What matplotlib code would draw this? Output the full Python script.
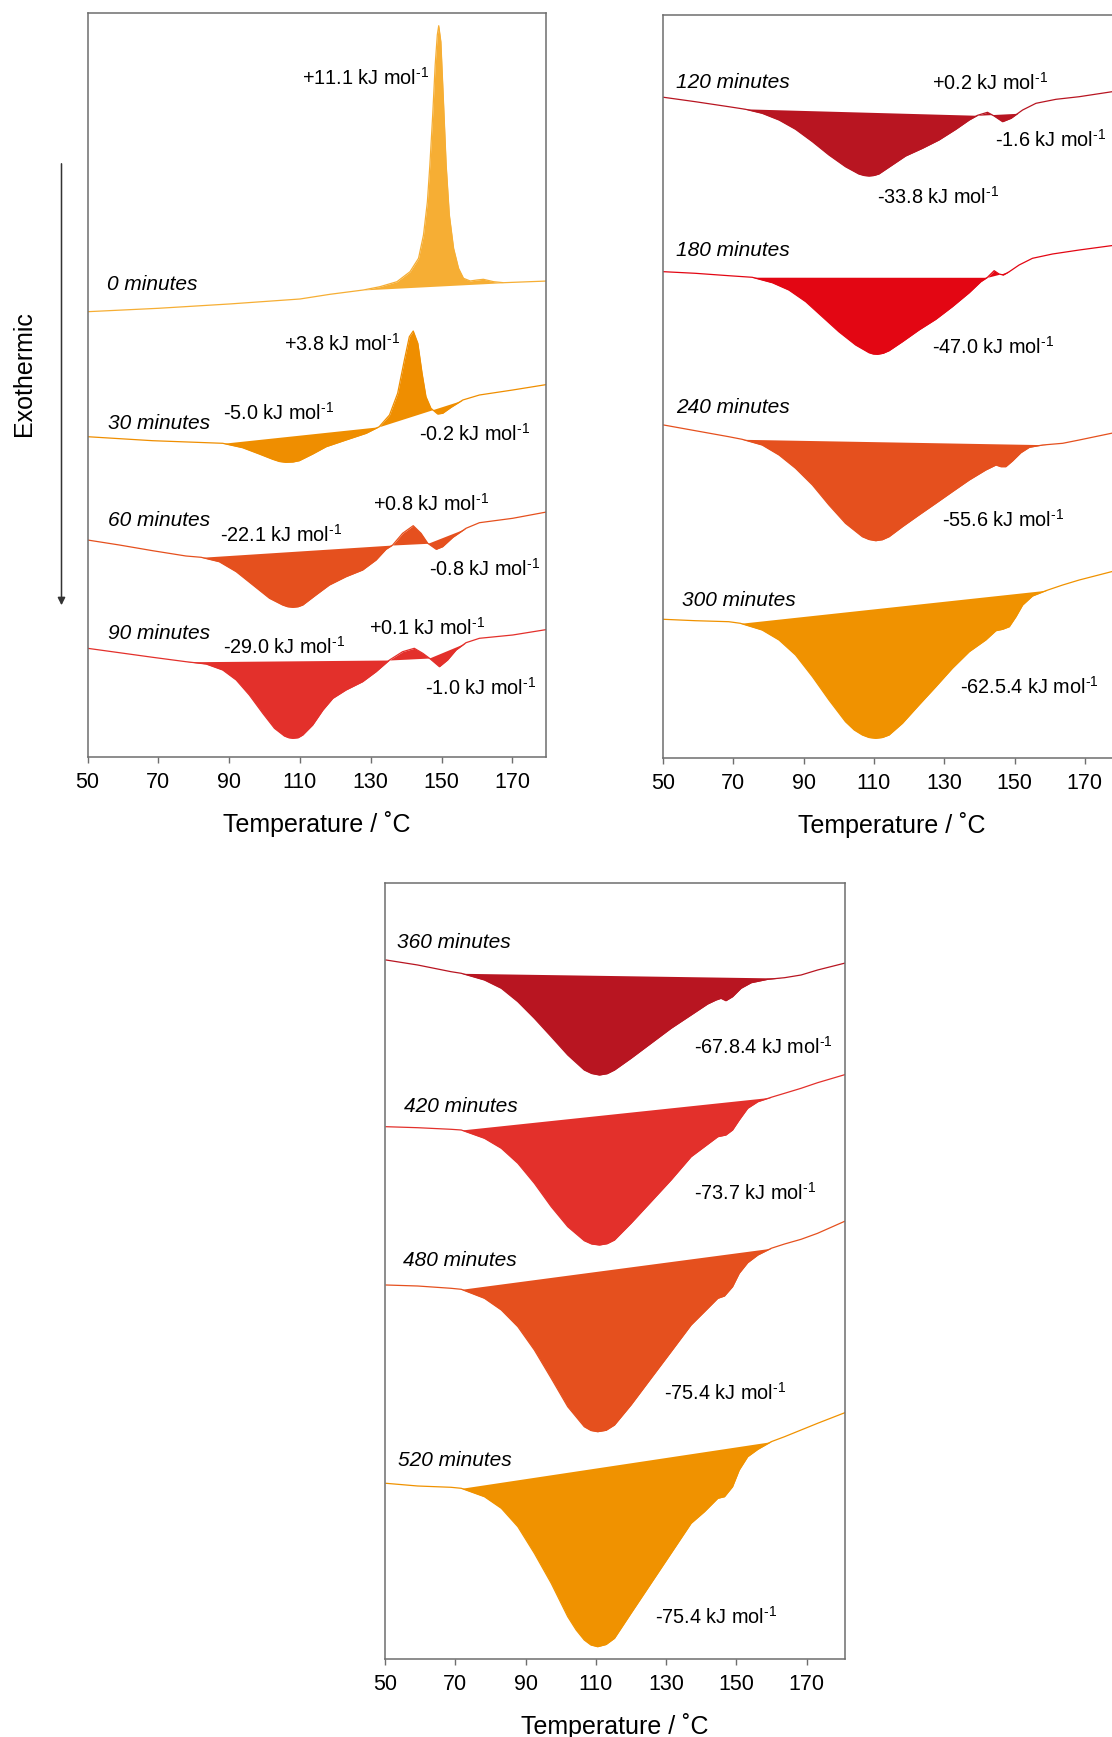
import numpy as np
import matplotlib
matplotlib.use("Agg")
import matplotlib.pyplot as plt
from matplotlib.patches import FancyArrowPatch

plt.rcParams['font.family'] = ['Liberation Sans', 'DejaVu Sans']
plt.rcParams['mathtext.fontset'] = 'custom'
plt.rcParams['mathtext.rm'] = 'Liberation Sans'
plt.rcParams['mathtext.it'] = 'Liberation Sans:italic'

# ---------------- DSC traces (temperature in degC, heat flow in a.u., stacked) ----------------
# Panel A: 0 - 90 minutes
T_0 = [50, 70, 90, 110, 118.5, 127.9, 132.6, 137.4, 141.1, 143.5, 144.9, 146, 146.7, 147.5, 148.2,
       148.8, 149.2, 149.8, 150.5, 151.3, 152.2, 153.4, 154.8, 156.2, 158.1, 160, 161.8, 164.7, 167.5,
       180]
hf_0 = [445.3, 448.7, 453, 458, 462.7, 467, 470.3, 475.3, 485.3, 498.7, 522, 555.3, 592, 642, 692,
        722, 731.3, 715.3, 658.7, 592, 542, 508.7, 488.7, 478.7, 476, 477, 477.7, 475.3, 474.3, 476]
seg_0 = [(128, 167.5)]

T_30 = [50, 68.4, 88.2, 93.8, 98.5, 102.3, 104.2, 106, 108, 109.8, 113.6, 117.4, 123, 128.7, 132.4,
        135.3, 137.6, 139.5, 140.9, 142, 143.3, 144.5, 145.6, 147, 148.9, 150.3, 152.7, 156, 160.7,
        170.1, 180.1]
hf_30 = [320.3, 316.3, 313.7, 309.3, 303, 297.7, 295.5, 294.7, 295, 296.3, 303, 310.3, 317, 323.7,
         330.3, 342, 363.7, 397, 420.3, 426, 413.7, 383.7, 360.3, 348.7, 343, 343.7, 349.7, 357, 362,
         367, 372.7]
seg_30 = [(88.2, 132.4), (132.4, 156)]

T_60 = [50, 59, 68.4, 77.8, 82.1, 87.2, 92, 96.7, 101.4, 105.1, 106.5, 108, 109.5, 110.8, 114.5, 118.3,
        123, 127.7, 131.5, 134.3, 136.2, 139, 142, 144.2, 146.1, 148.5, 150.3, 153.2, 156.9, 160.7,
        170.1, 180.1]
hf_60 = [217, 212, 206.3, 201, 199.7, 195.3, 185.3, 172, 158.7, 152, 150.3, 149.7, 150.3, 152, 162, 172,
         180.3, 187, 197, 207.7, 212, 223.7, 231.3, 223.7, 213.7, 207.7, 210.3, 219.7, 228.7, 234.3,
         238.7, 245.3]
seg_60 = [(82.1, 136.2), (136.2, 146.1), (146.1, 157)]

T_90 = [50, 59, 68.4, 77.8, 83.5, 88.2, 92, 95.7, 99.5, 102.8, 105.6, 106.8, 108, 109.5, 110.8, 113.6,
        116.5, 119.3, 123, 127.7, 131.5, 135.3, 139, 142.3, 144.7, 146.6, 149.4, 151.7, 154.1, 156.9,
        160.7, 170.1, 180.1]
hf_90 = [108.7, 104.3, 99.7, 95.3, 93, 87, 77, 62, 43.7, 28.7, 21, 19.3, 18.7, 19.3, 22, 32, 47, 58.7,
         67, 75.3, 85.3, 97, 105.3, 108.7, 103.7, 98.7, 90.3, 97, 107, 114.3, 118.7, 122, 127.7]
seg_90 = [(78, 135.3), (135.3, 146.5), (146.5, 157)]

# Panel B: 120 - 300 minutes
T_120 = [50.2, 59.2, 68.7, 73.5, 78.2, 83, 87.7, 92.5, 97.2, 101.9, 105.7, 107.2, 108.6, 110, 111.4,
         115.2, 119, 123.8, 128.5, 133.3, 137.1, 139.5, 142.3, 144.2, 146.6, 149, 152.3, 156.1, 161.8,
         168.4, 180]
hf_120 = [660.7, 656.3, 651.3, 648.7, 644.7, 638, 628.7, 616.3, 603, 591.3, 584, 582.5, 582, 582.5,
          584, 593, 602, 609.7, 618, 628.7, 638, 642.7, 645.7, 642, 636.3, 639.7, 648, 654.7, 658.7,
          661.3, 667.5]
seg_120 = [(72.5, 139.5), (139.5, 151)]

T_180 = [50.2, 59.2, 68.7, 75.4, 81.1, 85.8, 90.6, 95.3, 100, 104.8, 108.6, 109.8, 111, 112.6, 114.3,
         118.1, 122.8, 127.6, 132.3, 137.1, 140.4, 142.3, 144.2, 145.6, 146.8, 148.5, 151.3, 155.1,
         160.8, 168.4, 180]
hf_180 = [486.3, 484.7, 482.3, 480.7, 475.3, 468, 456.3, 441.3, 426.3, 413, 405.3, 404, 403.7, 404.7,
          407.3, 416.3, 428, 438.7, 451.3, 465.3, 476.3, 480.7, 487.3, 484, 483, 486.3, 493, 499.7,
          504, 508, 513.5]
seg_180 = [(75, 142.3), (142.3, 148.5)]

T_240 = [50.2, 59.2, 68.7, 72.5, 78.2, 83, 87.7, 92.5, 97.2, 101.9, 106.7, 108.6, 110.5, 112.4, 114.3,
         118.1, 122.8, 127.6, 132.3, 137.1, 141.8, 144.7, 146.1, 147.5, 149.4, 151.8, 154.2, 158,
         163.7, 168.4, 180]
hf_240 = [333, 327.3, 321.3, 318.7, 313, 303, 289.7, 273, 253, 234.7, 221.3, 218.5, 217.3, 218.3,
          221.3, 231.3, 243, 254.7, 266.3, 278, 288, 293, 291.3, 291.3, 297, 305.3, 310.7, 313, 314.7,
          318, 326.5]
seg_240 = [(72.5, 159)]

T_300 = [50.2, 59.2, 68.7, 72, 78.2, 83, 87.7, 92.5, 97.2, 101.9, 104.4, 106.7, 108.6, 110.5, 112.4,
         114.3, 118.1, 122.8, 127.6, 132.3, 137.1, 141.8, 144.7, 146.6, 148.5, 150.4, 152.3, 155.1,
         158.9, 163.7, 168.4, 180]
hf_300 = [138.7, 137.3, 136.3, 134.7, 128, 118, 103, 81.3, 58, 36.3, 28, 23, 20.5, 19.7, 20.5, 23,
          34.7, 53, 71.3, 89.7, 106.3, 118, 127.3, 128.7, 131.3, 141.3, 153, 162, 167.3, 173, 178,
          188.5]
seg_300 = [(72, 159.4)]

# Panel C: 360 - 520 minutes
T_360 = [50.3, 59.3, 68.8, 71.7, 78.3, 83.1, 87.8, 92.5, 97.3, 102, 106.7, 108.8, 111, 113.2, 115.3,
         120, 125.7, 131.4, 137.1, 141.8, 144.2, 145.6, 147, 148.9, 151.3, 154.2, 158.9, 163.7, 168.4,
         173.1, 181]
hf_360 = [699, 694, 687.3, 685.7, 679, 670.7, 657.3, 640.7, 622.3, 604, 589, 585.5, 584, 585.3, 589,
          600.7, 615.7, 630.7, 644, 655, 659, 660.7, 658.3, 662.3, 670.7, 676.3, 679.7, 681.3, 684,
          689, 696]
seg_360 = [(71.7, 162.7)]

T_420 = [50.3, 59.3, 68.8, 71.7, 78.3, 83.1, 87.8, 92.5, 97.3, 102, 106.7, 108.8, 111, 113.2, 115.3,
         120, 125.7, 131.4, 137.1, 140.9, 144.7, 147, 148.9, 150.8, 153.2, 156.1, 159.9, 163.7, 168.4,
         173.1, 181]
hf_420 = [532.3, 531.3, 529.7, 529, 520.7, 510.7, 495.7, 475.7, 452.3, 432.3, 418.3, 415, 414, 415.3,
          419, 435.7, 457.3, 479, 502.3, 512.3, 522.3, 524, 529, 539, 550.7, 557.3, 561.7, 565.7,
          570.7, 576.3, 584.5]
seg_420 = [(71.7, 160)]

T_480 = [50.3, 59.3, 68.8, 71.7, 78.3, 83.1, 87.8, 92.5, 97.3, 102, 106.7, 108.6, 110.5, 112.9, 115.3,
         120, 125.7, 131.4, 137.1, 140.9, 144.7, 146.6, 148.9, 150.8, 153.2, 156.1, 159.9, 163.7,
         168.4, 173.1, 181]
hf_480 = [374, 373, 370.7, 369.7, 360.7, 349, 332.3, 309, 280.7, 252.3, 232.3, 228.5, 227.3, 228.7,
          234, 254, 280.7, 307.3, 334, 347.3, 360.7, 363, 372.3, 385.7, 396.3, 404, 410.7, 415, 419.7,
          425.7, 438]
seg_480 = [(71.7, 160)]

T_520 = [50.3, 59.3, 68.8, 71.7, 78.3, 83.1, 87.8, 92.5, 97.3, 102, 104.4, 106.7, 108.6, 110.5, 112.9,
         115.3, 120, 125.7, 131.4, 137.1, 140.9, 144.7, 146.6, 148.9, 150.8, 153.2, 156.1, 159.9,
         163.7, 168.4, 173.1, 181]
hf_520 = [175.7, 173, 171.7, 170.7, 162.3, 150.7, 132.3, 105.7, 75.7, 42.3, 29, 19, 14, 12.3, 14.5,
          20.7, 45.7, 75.7, 105.7, 135.7, 147.3, 160.7, 162.3, 172.3, 189, 202.3, 209.7, 217.3, 222.3,
          229, 235.7, 246.5]
seg_520 = [(71.7, 160)]

# Trace colours
c_0, c_30, c_60, c_90 = '#F6AE34', '#EF8E00', '#E5501E', '#E3302B'
c_120, c_180, c_240, c_300 = '#B81521', '#E30613', '#E5501E', '#F09200'
c_360, c_420, c_480, c_520 = '#B81521', '#E3302B', '#E5501E', '#F09200'

# Curve names: (label, x, y)
names_A = [('0 minutes', 55.5, 473), ('30 minutes', 55.7, 333.7), ('60 minutes', 55.7, 237),
           ('90 minutes', 55.7, 123.7)]
names_B = [('120 minutes', 53.7, 675.3), ('180 minutes', 53.7, 507.3), ('240 minutes', 53.7, 350.7),
           ('300 minutes', 55.4, 158)]
names_C = [('360 minutes', 53.5, 716.3), ('420 minutes', 55.5, 552.3), ('480 minutes', 55.1, 398.3),
           ('520 minutes', 53.7, 199)]

# Enthalpy labels: (value text, x, y)
enth_A = [('+11.1', 110.5, 679), ('+3.8', 105.6, 413), ('-5.0', 88.2, 343.7), ('-0.2', 143.5, 323),
          ('-22.1', 87.4, 222), ('+0.8', 130.6, 253), ('-0.8', 146.4, 187.7),
          ('-29.0', 88.2, 110.3), ('+0.1', 129.4, 128.7), ('-1.0', 145.2, 68.7)]
enth_B = [('+0.2', 126.5, 675.3), ('-1.6', 144.5, 618), ('-33.8', 111.0, 561.3),
          ('-47.0', 126.4, 411.3), ('-55.6', 129.5, 238), ('-62.5.4', 134.4, 70.7)]
enth_C = [('-67.8.4', 138.0, 612.3), ('-73.7', 138.0, 465.7), ('-75.4', 129.3, 265.7),
          ('-75.4', 126.9, 41.7)]

xticks = [50, 70, 90, 110, 130, 150, 170]
UNIT = ' kJ mol$^{\\mathdefault{\u2010' + '1}}$'


def draw_trace(ax, T, hf, segments, color):
    T = np.asarray(T, float)
    hf = np.asarray(hf, float)
    for a, b in segments:
        ya, yb = np.interp([a, b], T, hf)
        inside = (T > a) & (T < b)
        xs = np.concatenate([[a], T[inside], [b]])
        ys = np.concatenate([[ya], hf[inside], [yb]])
        base = ya + (yb - ya) * (xs - a) / (b - a)
        ax.fill_between(xs, ys, base, color=color, lw=0, interpolate=True)
    ax.plot(T, hf, color=color, lw=0.9, solid_joinstyle='round')


def style_axes(ax, xmax, ymax):
    ax.set_xlim(50, xmax)
    ax.set_ylim(0, ymax)
    ax.set_yticks([])
    ax.set_xticks(xticks)
    for sp in ax.spines.values():
        sp.set_color('#6e6e6e')
        sp.set_linewidth(1.1)
    ax.tick_params(axis='x', length=4, width=1.0, color='#6e6e6e', pad=7, labelsize=15.5)
    ax.set_xlabel('Temperature / \u02daC', fontsize=18, labelpad=13)


def label_panel(ax, names, enth):
    for s, x, y in names:
        ax.text(x, y, s, fontsize=15, style='italic', ha='left', va='center')
    for s, x, y in enth:
        ax.text(x, y, s + UNIT, fontsize=14.3, ha='left', va='center')


W, H = 1112, 1737
fig = plt.figure(figsize=(W / 100, H / 100), dpi=100)

axA = fig.add_axes([87.5 / W, 1 - 757 / H, 458.5 / W, 744 / H])
axB = fig.add_axes([663 / W, 1 - 758 / H, 457 / W, 743 / H])
axC = fig.add_axes([385 / W, 1 - 1659 / H, 460 / W, 776 / H])

for T, hf, seg, c in [(T_0, hf_0, seg_0, c_0), (T_30, hf_30, seg_30, c_30),
                      (T_60, hf_60, seg_60, c_60), (T_90, hf_90, seg_90, c_90)]:
    draw_trace(axA, T, hf, seg, c)
for T, hf, seg, c in [(T_120, hf_120, seg_120, c_120), (T_180, hf_180, seg_180, c_180),
                      (T_240, hf_240, seg_240, c_240), (T_300, hf_300, seg_300, c_300)]:
    draw_trace(axB, T, hf, seg, c)
for T, hf, seg, c in [(T_360, hf_360, seg_360, c_360), (T_420, hf_420, seg_420, c_420),
                      (T_480, hf_480, seg_480, c_480), (T_520, hf_520, seg_520, c_520)]:
    draw_trace(axC, T, hf, seg, c)

style_axes(axA, 179.5, 744)
style_axes(axB, 180, 743)
style_axes(axC, 180.9, 776)

label_panel(axA, names_A, enth_A)
label_panel(axB, names_B, enth_B)
label_panel(axC, names_C, enth_C)

# Exothermic direction indicator
fig.text(24 / W, 1 - 374 / H, 'Exothermic', rotation=90, fontsize=18, ha='center', va='center')
fig.add_artist(FancyArrowPatch((61.5 / W, 1 - 161 / H), (61.5 / W, 1 - 608 / H),
                               transform=fig.transFigure, arrowstyle='-|>', mutation_scale=11,
                               color='#333333', lw=1.1))

fig.savefig('out.png', dpi=100)
